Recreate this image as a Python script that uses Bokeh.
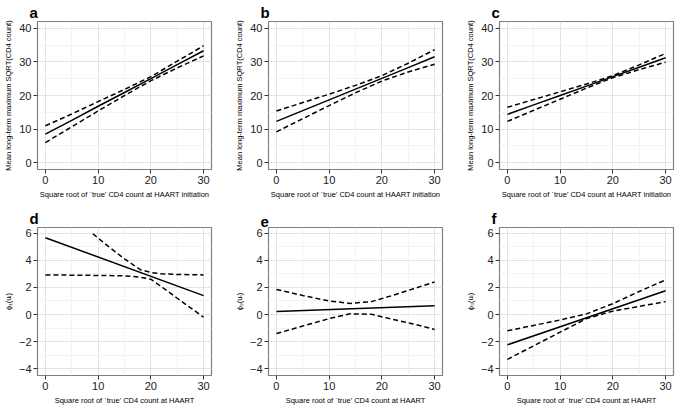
from bokeh.plotting import figure
from bokeh.layouts import gridplot
from bokeh.models import FixedTicker, Range1d
from bokeh.embed import file_html
from bokeh.resources import INLINE

# ---------------- data ----------------
x_top = [0, 5, 10, 15, 20, 25, 30]

a_fit = [8.5, 12.6, 16.8, 20.9, 25.0, 29.2, 33.3]
a_upper = [11.0, 14.5, 18.2, 21.8, 25.6, 30.2, 34.8]
a_lower = [6.0, 10.7, 15.4, 20.0, 24.4, 28.2, 31.8]

b_fit = [12.3, 15.5, 18.7, 21.9, 25.1, 28.3, 31.5]
b_upper = [15.4, 17.9, 20.4, 23.0, 25.9, 29.6, 33.6]
b_lower = [9.2, 13.1, 17.0, 20.8, 24.3, 27.0, 29.3]

c_fit = [14.4, 17.2, 20.0, 22.8, 25.6, 28.4, 31.2]
c_upper = [16.5, 18.8, 21.1, 23.4, 25.9, 29.1, 32.5]
c_lower = [12.3, 15.6, 18.9, 22.2, 25.3, 27.7, 29.9]

d_fit_x = [0, 30]
d_fit = [5.66, 1.39]
d_upper_x = [9, 12, 15, 18, 20, 22, 25, 30]
d_upper = [5.95, 5.0, 4.1, 3.3, 3.1, 3.0, 2.95, 2.92]
d_lower_x = [0, 5, 10, 15, 18, 20, 22, 25, 30]
d_lower = [2.92, 2.9, 2.88, 2.85, 2.75, 2.6, 2.05, 1.2, -0.2]

e_fit_x = [0, 30]
e_fit = [0.22, 0.65]
e_band_x = [0, 5, 10, 14, 18, 22, 26, 30]
e_upper = [1.85, 1.4, 1.0, 0.82, 0.95, 1.4, 1.9, 2.4]
e_lower = [-1.4, -0.85, -0.3, 0.05, 0.02, -0.35, -0.7, -1.1]

f_fit_x = [0, 30]
f_fit = [-2.23, 1.75]
f_band_x = [0, 5, 10, 15, 20, 25, 30]
f_upper = [-1.2, -0.8, -0.4, 0.05, 0.8, 1.7, 2.55]
f_lower = [-3.3, -2.3, -1.3, -0.3, 0.25, 0.6, 0.95]

x_ticks = [0, 10, 20, 30]
x_minor = [5, 15, 25]
top_y_ticks = [0, 10, 20, 30, 40]
top_y_minor = [5, 15, 25, 35]
bot_y_ticks = [-4, -2, 0, 2, 4, 6]
bot_y_minor = [-3, -1, 1, 3, 5]

top_xlabel = "Square root of `true' CD4 count at HAART initiation"
bot_xlabel = "Square root of `true' CD4 count at HAART"
top_ylabel = "Mean long-term maximum SQRT(CD4 count)"
bot_ylabels = ["\u03d5\u2081(u\u1d62)", "\u03d5\u2082(u\u1d62)", "\u03d5\u2083(u\u1d62)"]

FONT = "Liberation Sans"


def panel(letter, xlabel, ylabel, yr, yticks, yminor, lines, top, bottom, left, right):
    p = figure(frame_width=174, frame_height=148, output_backend="svg",
               toolbar_location=None, x_range=Range1d(-1.5, 31.5), y_range=Range1d(*yr),
               min_border_top=top, min_border_bottom=bottom,
               min_border_left=left, min_border_right=right)
    p.title.text = letter
    p.title.text_font = FONT
    p.title.text_font_size = "15px"
    p.title.text_font_style = "bold"
    p.title.text_color = "#000000"
    p.title.offset = -8
    p.title.standoff = 2
    p.outline_line_color = "#7f7f7f"
    p.outline_line_width = 1.2
    p.background_fill_color = "white"
    p.border_fill_color = "white"

    p.xaxis.ticker = FixedTicker(ticks=x_ticks, minor_ticks=x_minor)
    p.yaxis.ticker = FixedTicker(ticks=yticks, minor_ticks=yminor)
    for ax in (p.xaxis[0], p.yaxis[0]):
        ax.axis_line_color = None
        ax.major_tick_in = 0
        ax.major_tick_out = 4
        ax.major_tick_line_color = "#333333"
        ax.minor_tick_line_color = None
        ax.major_label_text_font = FONT
        ax.major_label_text_font_size = "11px"
        ax.major_label_text_color = "#222222"
        ax.major_label_standoff = 2
        ax.axis_label_text_font = FONT
        ax.axis_label_text_font_size = "7.5px"
        ax.axis_label_text_font_style = "normal"
        ax.axis_label_text_color = "black"
        ax.axis_label_standoff = 3
    p.xaxis.axis_label = xlabel
    p.yaxis.axis_label = ylabel

    for g in (p.xgrid[0], p.ygrid[0]):
        g.grid_line_color = "#e3e3e3"
        g.grid_line_width = 1
        g.minor_grid_line_color = "#f3f3f3"
        g.minor_grid_line_width = 1

    for xs, ys, dash in lines:
        p.line(xs, ys, line_color="black", line_width=1.5,
               line_dash="5 3" if dash else "solid")
    return p


tops = [(16, 34), (24, 31)]
cols = [(34, 20), (34, 20), (34, 3)]

pa = panel("a", top_xlabel, top_ylabel, (-2, 42), top_y_ticks, top_y_minor,
           [(x_top, a_fit, False), (x_top, a_upper, True), (x_top, a_lower, True)],
           *tops[0], *cols[0])
pb = panel("b", top_xlabel, top_ylabel, (-2, 42), top_y_ticks, top_y_minor,
           [(x_top, b_fit, False), (x_top, b_upper, True), (x_top, b_lower, True)],
           *tops[0], *cols[1])
pc = panel("c", top_xlabel, top_ylabel, (-2, 42), top_y_ticks, top_y_minor,
           [(x_top, c_fit, False), (x_top, c_upper, True), (x_top, c_lower, True)],
           *tops[0], *cols[2])
pd = panel("d", bot_xlabel, bot_ylabels[0], (-4.49, 6.41), bot_y_ticks, bot_y_minor,
           [(d_fit_x, d_fit, False), (d_upper_x, d_upper, True), (d_lower_x, d_lower, True)],
           *tops[1], *cols[0])
pe = panel("e", bot_xlabel, bot_ylabels[1], (-4.49, 6.41), bot_y_ticks, bot_y_minor,
           [(e_fit_x, e_fit, False), (e_band_x, e_upper, True), (e_band_x, e_lower, True)],
           *tops[1], *cols[1])
pf = panel("f", bot_xlabel, bot_ylabels[2], (-4.49, 6.41), bot_y_ticks, bot_y_minor,
           [(f_fit_x, f_fit, False), (f_band_x, f_upper, True), (f_band_x, f_lower, True)],
           *tops[1], *cols[2])

grid = gridplot([[pa, pb, pc], [pd, pe, pf]], toolbar_location=None)

open("out.html", "w").write(file_html(grid, INLINE))
